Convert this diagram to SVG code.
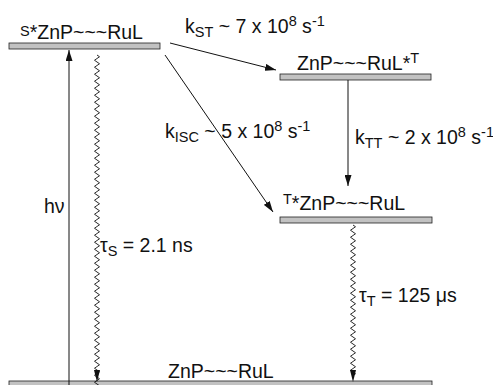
<svg xmlns="http://www.w3.org/2000/svg" width="493" height="385" viewBox="0 0 493 385">
<style>
text{font-family:"Liberation Sans",Arial,sans-serif;font-size:19.5px;fill:#111}
.s{font-size:14.5px}
.bar{fill:#c2c2c2;stroke:#222;stroke-width:0.8}
.ln{fill:none;stroke:#111;stroke-width:1}
.wv{fill:none;stroke:#111;stroke-width:0.9}
.hd{fill:#111}
</style>
<defs>
<marker id="ah" markerUnits="userSpaceOnUse" markerWidth="11" markerHeight="7" refX="11" refY="3.5" orient="auto">
<path d="M0,0 L11,3.5 L0,7 z" fill="#111"/>
</marker>
</defs>
<rect width="493" height="385" fill="#fff"/>
<g id="S1">
<rect class="bar" x="9" y="43" width="151" height="6"/>
<text x="20" y="39"><tspan class="s" dy="-3">S</tspan><tspan dy="3">*ZnP~~~RuL</tspan></text>
</g>
<g id="T1RuL">
<rect class="bar" x="280" y="74" width="151" height="6"/>
<text x="297" y="70">ZnP~~~RuL*<tspan class="s" dy="-7">T</tspan></text>
</g>
<g id="T1ZnP">
<rect class="bar" x="280" y="217" width="152" height="6"/>
<text x="283" y="210"><tspan class="s" dy="-6">T</tspan><tspan dy="6">*ZnP~~~RuL</tspan></text>
</g>
<g id="S0">
<rect class="bar" x="9" y="381" width="423" height="6"/>
<text x="168" y="378">ZnP~~~RuL</text>
</g>
<g id="connectors">
<line class="ln" x1="69" y1="385" x2="69" y2="50" marker-end="url(#ah)"/>
<path class="wv" d="M97,55 l2.5,1.75 -5,3.5 5,3.5 -5,3.5 5,3.5 -5,3.5 5,3.5 -5,3.5 5,3.5 -5,3.5 5,3.5 -5,3.5 5,3.5 -5,3.5 5,3.5 -5,3.5 5,3.5 -5,3.5 5,3.5 -5,3.5 5,3.5 -5,3.5 5,3.5 -5,3.5 5,3.5 -5,3.5 5,3.5 -5,3.5 5,3.5 -5,3.5 5,3.5 -5,3.5 5,3.5 -5,3.5 5,3.5 -5,3.5 5,3.5 -5,3.5 5,3.5 -5,3.5 5,3.5 -5,3.5 5,3.5 -5,3.5 5,3.5 -5,3.5 5,3.5 -5,3.5 5,3.5 -5,3.5 5,3.5 -5,3.5 5,3.5 -5,3.5 5,3.5 -5,3.5 5,3.5 -5,3.5 5,3.5 -5,3.5 5,3.5 -5,3.5 5,3.5 -5,3.5 5,3.5 -5,3.5 5,3.5 -5,3.5 5,3.5 -5,3.5 5,3.5 -5,3.5 5,3.5 -5,3.5 5,3.5 -5,3.5 5,3.5 -5,3.5 5,3.5 -5,3.5 5,3.5 -5,3.5 5,3.5 -5,3.5 5,3.5 -5,3.5 5,3.5 -5,3.5 5,3.5 -5,3.5 5,3.5 -5,3.5 5,3.5 -5,3.5 5,3.5 -5,3.5 5,3.5 -5,3.5 5,3.5 -5,3.5 5,3.5 -5,3.5 5,3.5 -5,3.5 5,3.5 -2.5,1.75 v2"/>
<polygon class="hd" points="94,370 100,370 97,382"/>
<line class="ln" x1="170" y1="43" x2="276" y2="70" marker-end="url(#ah)"/>
<line class="ln" x1="165" y1="55" x2="273" y2="212" marker-end="url(#ah)"/>
<line class="ln" x1="348" y1="80" x2="348" y2="186" marker-end="url(#ah)"/>
<path class="wv" d="M353,225 l2.5,1.75 -5,3.5 5,3.5 -5,3.5 5,3.5 -5,3.5 5,3.5 -5,3.5 5,3.5 -5,3.5 5,3.5 -5,3.5 5,3.5 -5,3.5 5,3.5 -5,3.5 5,3.5 -5,3.5 5,3.5 -5,3.5 5,3.5 -5,3.5 5,3.5 -5,3.5 5,3.5 -5,3.5 5,3.5 -5,3.5 5,3.5 -5,3.5 5,3.5 -5,3.5 5,3.5 -5,3.5 5,3.5 -5,3.5 5,3.5 -5,3.5 5,3.5 -5,3.5 5,3.5 -5,3.5 5,3.5 -2.5,1.75 v2"/>
<polygon class="hd" points="350,370 356,370 353,382"/>
</g>
<g id="labels">
<text x="185" y="33">k<tspan class="s" dy="4">ST</tspan><tspan dy="-4"> ~ 7 x 10</tspan><tspan class="s" dy="-7">8</tspan><tspan dy="7"> s</tspan><tspan class="s" dy="-7">-1</tspan></text>
<text x="165" y="138">k<tspan class="s" dy="4">ISC</tspan><tspan dy="-4"> ~ 5 x 10</tspan><tspan class="s" dy="-7">8</tspan><tspan dy="7"> s</tspan><tspan class="s" dy="-7">-1</tspan></text>
<text x="355" y="144">k<tspan class="s" dy="4">TT</tspan><tspan dy="-4"> ~ 2 x 10</tspan><tspan class="s" dy="-7">8</tspan><tspan dy="7"> s</tspan><tspan class="s" dy="-7">-1</tspan></text>
<text x="44" y="213">hν</text>
<text x="100" y="252">τ<tspan class="s" dy="4">S</tspan><tspan dy="-4"> = 2.1 ns</tspan></text>
<text x="359" y="302">τ<tspan class="s" dy="4">T</tspan><tspan dy="-4"> = 125 μs</tspan></text>
</g>
</svg>
